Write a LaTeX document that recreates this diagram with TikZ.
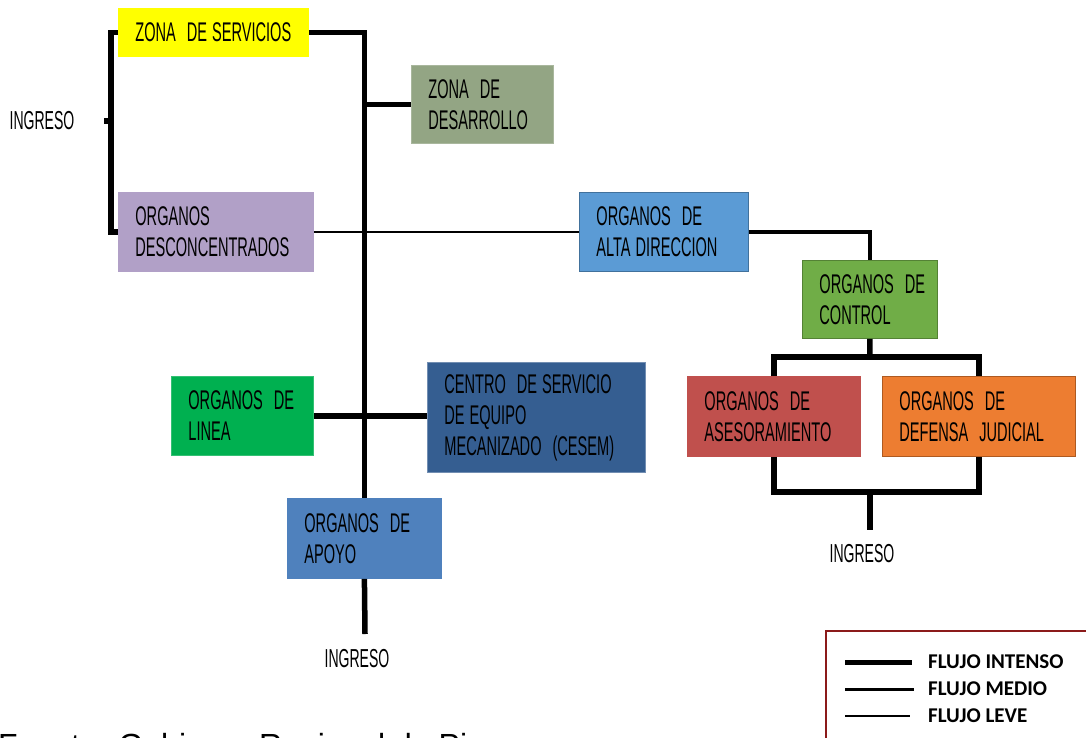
\documentclass[tikz,border=0pt]{standalone}
\usepackage{fontspec}
\setmainfont{Liberation Sans}
\newfontfamily\agency[FakeStretch=0.54]{Liberation Sans}
\newfontfamily\legfont{Carlito}
\newcommand\wsp{\kern5pt}
\newcommand\wdsp{\kern11pt}
\definecolor{cyellow}{HTML}{FFFF00}
\definecolor{cdesarrollo}{HTML}{93A584}
\definecolor{cdesc}{HTML}{B1A0C7}
\definecolor{calta}{HTML}{5B9BD5}
\definecolor{caltab}{HTML}{41719C}
\definecolor{ccontrol}{HTML}{70AD47}
\definecolor{ccontrolb}{HTML}{548235}
\definecolor{cases}{HTML}{C0504D}
\definecolor{cdef}{HTML}{ED7D31}
\definecolor{cdefb}{HTML}{AE5A21}
\definecolor{clinea}{HTML}{00B050}
\definecolor{ccentro}{HTML}{355E91}
\definecolor{capoyo}{HTML}{4F81BD}
\definecolor{clegend}{HTML}{8B1A1A}
\tikzset{
  box/.style={rectangle, anchor=north west, inner xsep=17pt, inner ysep=0pt,
    align=left, font=\agency\fontsize{27}{31}\selectfont, text=black, line width=0.8pt},
  intenso/.style={line width=5.5pt, draw=black},
  medio/.style={line width=4.5pt, draw=black},
  leve/.style={line width=2.2pt, draw=black},
  ingtext/.style={font=\agency\fontsize{26}{30}\selectfont, text=black, inner sep=0pt},
  legtext/.style={font=\legfont\bfseries\fontsize{21}{24}\selectfont, anchor=west, inner sep=0pt}
}
\begin{document}
\begin{tikzpicture}[x=1pt,y=-1pt]
\useasboundingbox (0,0) rectangle (1086,738);
\clip (0,0) rectangle (1086,738);
% boxes
\node[box, fill=cyellow, draw=cyellow, text width=156pt, minimum height=48pt] (zs) at (118,8) {ZONA\wdsp DE\wsp SERVICIOS};
\node[box, fill=cdesarrollo, draw=cdesarrollo!80!white, text width=108pt, minimum height=78pt] (dsr) at (411,65) {ZONA\wdsp DE\\DESARROLLO};
\node[box, fill=cdesc, draw=cdesc, text width=161pt, minimum height=79pt] (desc) at (118,192) {ORGANOS\\DESCONCENTRADOS};
\node[box, fill=calta, draw=caltab, text width=135pt, minimum height=79pt] (alta) at (579,192) {ORGANOS\wdsp DE\\ALTA\wsp DIRECCION};
\node[box, fill=ccontrol, draw=ccontrolb, text width=101pt, minimum height=78pt] (ctrl) at (802,260) {ORGANOS\wdsp DE\\CONTROL};
\node[box, fill=cases, draw=cases, text width=139pt, minimum height=80pt] (ases) at (687,376) {ORGANOS\wdsp DE\\ASESORAMIENTO};
\node[box, fill=cdef, draw=cdefb, text width=159pt, minimum height=80pt] (def) at (882,376) {ORGANOS\wdsp DE\\DEFENSA\wdsp JUDICIAL};
\node[box, fill=clinea, draw=clinea!80!white, text width=108pt, minimum height=79pt] (linea) at (171,376) {ORGANOS\wdsp DE\\LINEA};
\node[box, fill=ccentro, draw=ccentro!70!white, text width=184pt, minimum height=110pt] (centro) at (427,362) {CENTRO\wdsp DE\wsp SERVICIO\\DE\wsp EQUIPO\\MECANIZADO\wdsp (CESEM)};
\node[box, fill=capoyo, draw=capoyo, text width=120pt, minimum height=80pt] (apoyo) at (287,498) {ORGANOS\wdsp DE\\APOYO};
% INGRESO labels
\node[ingtext] (ing1) at (42,121) {INGRESO};
\node[ingtext] (ing2) at (357,659) {INGRESO};
\node[ingtext] (ing3) at (862,554) {INGRESO};
% coordinates
\coordinate (brk) at (111,121);
\coordinate (tick) at (104,121);
\coordinate (cj) at (870,357);
\coordinate (bj) at (870,492);
\coordinate (ing3top) at (870,530);
\coordinate (ing2top) at (365,634);
% connectors
\draw[intenso] (zs.west) -- (zs.west -| brk) |- (desc.west);
\draw[intenso] (brk) -- (tick);
\draw[intenso] (zs.east) -| (apoyo.north);
\draw[intenso] (dsr.west) -- (dsr.west -| apoyo.north);
\draw[leve] (desc.east) -- (alta.west);
\draw[medio] (alta.east) -| (ctrl.north);
\draw[intenso] (ctrl.south) -- (cj);
\draw[intenso] (ases.north) |- (cj) -| (def.north);
\draw[intenso] (ases.south) |- (bj) -| (def.south);
\draw[intenso] (bj) -- (ing3top);
\draw[intenso] (linea.east) -- (linea.east -| centro.west);
\draw[intenso] (apoyo.south) -- (ing2top);
% legend
\node[draw=clegend, line width=1.6pt, rectangle, anchor=north west, minimum width=300pt, minimum height=150pt] (leg) at (825,630) {};
\coordinate (l1a) at (845,662); \coordinate (l1b) at (912,662);
\coordinate (l2a) at (845,689); \coordinate (l2b) at (914,689);
\coordinate (l3a) at (845,716); \coordinate (l3b) at (910,716);
\draw[line width=5pt] (l1a) -- (l1b);
\draw[line width=3pt] (l2a) -- (l2b);
\draw[line width=1.8pt] (l3a) -- (l3b);
\node[legtext] (t1) at (928,662) {FLUJO INTENSO};
\node[legtext] (t2) at (928,689) {FLUJO MEDIO};
\node[legtext] (t3) at (928,716) {FLUJO LEVE};
% footer (cut off by the lower edge, as in the reference)
\node[anchor=base west, inner sep=0pt, font=\fontsize{32}{36}\selectfont] (src) at (-2,756) {Fuente: Gobierno Regional de Piura};
\end{tikzpicture}
\end{document}
